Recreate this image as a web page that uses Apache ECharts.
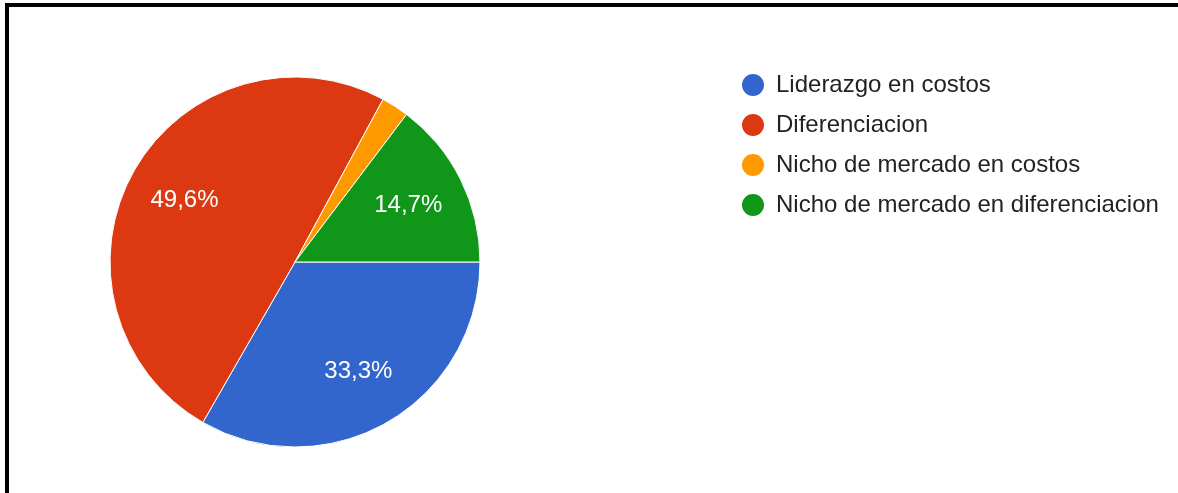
<!DOCTYPE html>
<html>
<head>
<meta charset="utf-8">
<script src="https://cdn.jsdelivr.net/npm/echarts@6/dist/echarts.min.js"></script>
<style>
  html, body { margin: 0; padding: 0; background: #fff; }
  #chart { position: absolute; left: 0; top: 0; width: 1178px; height: 493px; }
  #frame {
    position: absolute; left: 5px; top: 3px; right: 0; bottom: 0;
    border-top: 4px solid #000; border-left: 4px solid #000;
    pointer-events: none;
  }
</style>
</head>
<body>
<div id="chart"></div>
<div id="frame"></div>
<script>
// Survey answers: competitive strategy (percent of responses)
const categories = [
  'Liderazgo en costos',
  'Diferenciacion',
  'Nicho de mercado en costos',
  'Nicho de mercado en diferenciacion'
];
const shares = [33.3, 49.6, 2.4, 14.7];
const colors = ['#3366cc', '#dc3912', '#ff9900', '#109618'];

const FONT = 'Arial, "Liberation Sans", sans-serif';
const CENTER = [295, 262];
const RADIUS = 185;

const fmtPct = v => v.toFixed(1).replace('.', ',') + '%';

const slices = categories.map((name, i) => ({
  name,
  value: shares[i],
  itemStyle: { color: colors[i] }
}));

// Label-only ring: puts the percentages further out than the pie midpoint
const labelSlices = categories.map((name, i) => ({
  name,
  value: shares[i],
  label: { show: shares[i] >= 5 }
}));

const chart = echarts.init(document.getElementById('chart'), null, { renderer: 'canvas' });
chart.setOption({
  animation: false,
  color: colors,
  legend: {
    orient: 'vertical',
    left: 735,
    top: 67,
    icon: 'circle',
    itemWidth: 24,
    itemHeight: 24,
    itemGap: 14,
    data: categories,
    selectedMode: false,
    textStyle: {
      fontFamily: FONT,
      fontSize: 24,
      lineHeight: 24,
      color: '#222222',
      padding: [0, 0, 0, 6]
    }
  },
  series: [
    {
      type: 'pie',
      center: CENTER,
      radius: RADIUS,
      startAngle: 0,
      clockwise: true,
      avoidLabelOverlap: false,
      silent: true,
      label: { show: false },
      labelLine: { show: false },
      itemStyle: { borderColor: '#ffffff', borderWidth: 1 },
      data: slices
    },
    {
      type: 'pie',
      center: CENTER,
      radius: [62, RADIUS],
      startAngle: 0,
      clockwise: true,
      avoidLabelOverlap: false,
      silent: true,
      itemStyle: { color: 'rgba(0,0,0,0)' },
      label: {
        position: 'inside',
        formatter: p => fmtPct(p.value),
        fontFamily: FONT,
        fontSize: 24,
        color: '#ffffff'
      },
      labelLine: { show: false },
      data: labelSlices
    }
  ]
});
</script>
</body>
</html>
